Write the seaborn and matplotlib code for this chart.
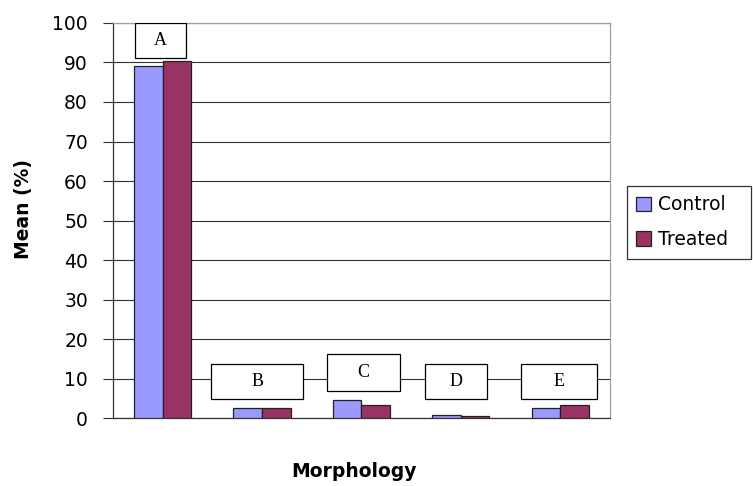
#!/usr/bin/env python3
"""Mean (%) by morphology class, control vs treated, Excel-style grouped bars."""

import pandas as pd
import matplotlib
matplotlib.use("Agg")
import matplotlib.pyplot as plt
import seaborn as sns
from matplotlib.patches import Rectangle

# Data
categories = ["A", "B", "C", "D", "E"]
control = [89.2, 2.6, 4.6, 0.8, 2.6]
treated = [90.3, 2.6, 3.4, 0.5, 3.4]
groups = ["Control", "Treated"]

# Label box layout (category offset, width, bottom, top) in data units
box_dx = [-0.02, -0.05, 0.02, -0.05, -0.01]
box_w = [0.51, 0.92, 0.73, 0.62, 0.76]
box_y0 = [91.0, 4.8, 7.0, 4.8, 4.8]
box_y1 = [100.0, 13.8, 16.2, 13.8, 13.8]

COLORS = {"Control": "#9999FF", "Treated": "#993366"}
FONT = 13.5


def build_frame():
    rows = []
    for cat, c, t in zip(categories, control, treated):
        rows.append({"Morphology": cat, "Group": "Control", "Mean": c})
        rows.append({"Morphology": cat, "Group": "Treated", "Mean": t})
    return pd.DataFrame(rows)


def create_figure(df):
    sns.set_style("white")
    plt.rcParams["font.family"] = ["DejaVu Sans"]
    plt.rcParams["text.color"] = "black"
    plt.rcParams["axes.labelcolor"] = "black"
    plt.rcParams["ytick.color"] = "black"

    fig = plt.figure(figsize=(7.53, 4.86), dpi=100)
    ax = fig.add_axes([0.150, 0.139, 0.660, 0.814])

    sns.barplot(
        data=df,
        x="Morphology",
        y="Mean",
        hue="Group",
        order=categories,
        hue_order=groups,
        palette=COLORS,
        width=0.575,
        gap=0,
        edgecolor="#222222",
        linewidth=0.9,
        saturation=1,
        ax=ax,
        zorder=3,
    )

    # Boxed category labels
    for i, cat in enumerate(categories):
        x0 = i + box_dx[i] - box_w[i] / 2
        rect = Rectangle(
            (x0, box_y0[i]),
            box_w[i],
            box_y1[i] - box_y0[i],
            facecolor="white",
            edgecolor="black",
            linewidth=0.9,
            zorder=4,
        )
        ax.add_patch(rect)
        ax.text(
            i + box_dx[i],
            (box_y0[i] + box_y1[i]) / 2,
            cat,
            ha="center",
            va="center",
            fontsize=13,
            family=["Liberation Serif", "DejaVu Serif"],
            color="black",
            zorder=5,
        )

    ax.set_xlim(-0.5, len(categories) - 0.5)
    ax.set_ylim(0, 100)
    ax.set_yticks(range(0, 101, 10))
    ax.tick_params(axis="y", labelsize=FONT, length=7, width=0.8,
                   color="#333333", labelcolor="black", direction="out",
                   left=True, pad=11)
    ax.set_xticks([])
    ax.grid(True, axis="y", color="#333333", linewidth=0.8)
    ax.set_axisbelow(True)

    ax.set_ylabel("Mean (%)", fontsize=FONT, fontweight="bold", color="black")
    ax.yaxis.set_label_coords(-0.161, 0.530)
    ax.set_xlabel("Morphology", fontsize=FONT, fontweight="bold", color="black")
    ax.xaxis.set_label_coords(0.486, -0.11)

    for side in ["left", "bottom"]:
        ax.spines[side].set_color("#333333")
        ax.spines[side].set_linewidth(0.9)
    for side in ["top", "right"]:
        ax.spines[side].set_color("#A0A0A0")
        ax.spines[side].set_linewidth(0.9)

    leg = ax.legend(
        loc="upper left",
        bbox_to_anchor=(1.034, 0.588, 0.25, 0.0),
        mode="expand",
        borderaxespad=0,
        frameon=True,
        fancybox=False,
        fontsize=FONT,
        handlelength=0.8,
        handleheight=0.8,
        handletextpad=0.35,
        borderpad=0.5,
        labelspacing=0.85,
        title=None,
    )
    leg.get_frame().set_edgecolor("black")
    leg.get_frame().set_linewidth(0.9)
    for h in leg.legend_handles:
        h.set_edgecolor("#222222")
        h.set_linewidth(0.9)
    for t in leg.get_texts():
        t.set_color("black")

    return fig


def main():
    df = build_frame()
    fig = create_figure(df)
    fig.savefig("out.png", dpi=100, facecolor="white")
    plt.close(fig)


if __name__ == "__main__":
    main()
